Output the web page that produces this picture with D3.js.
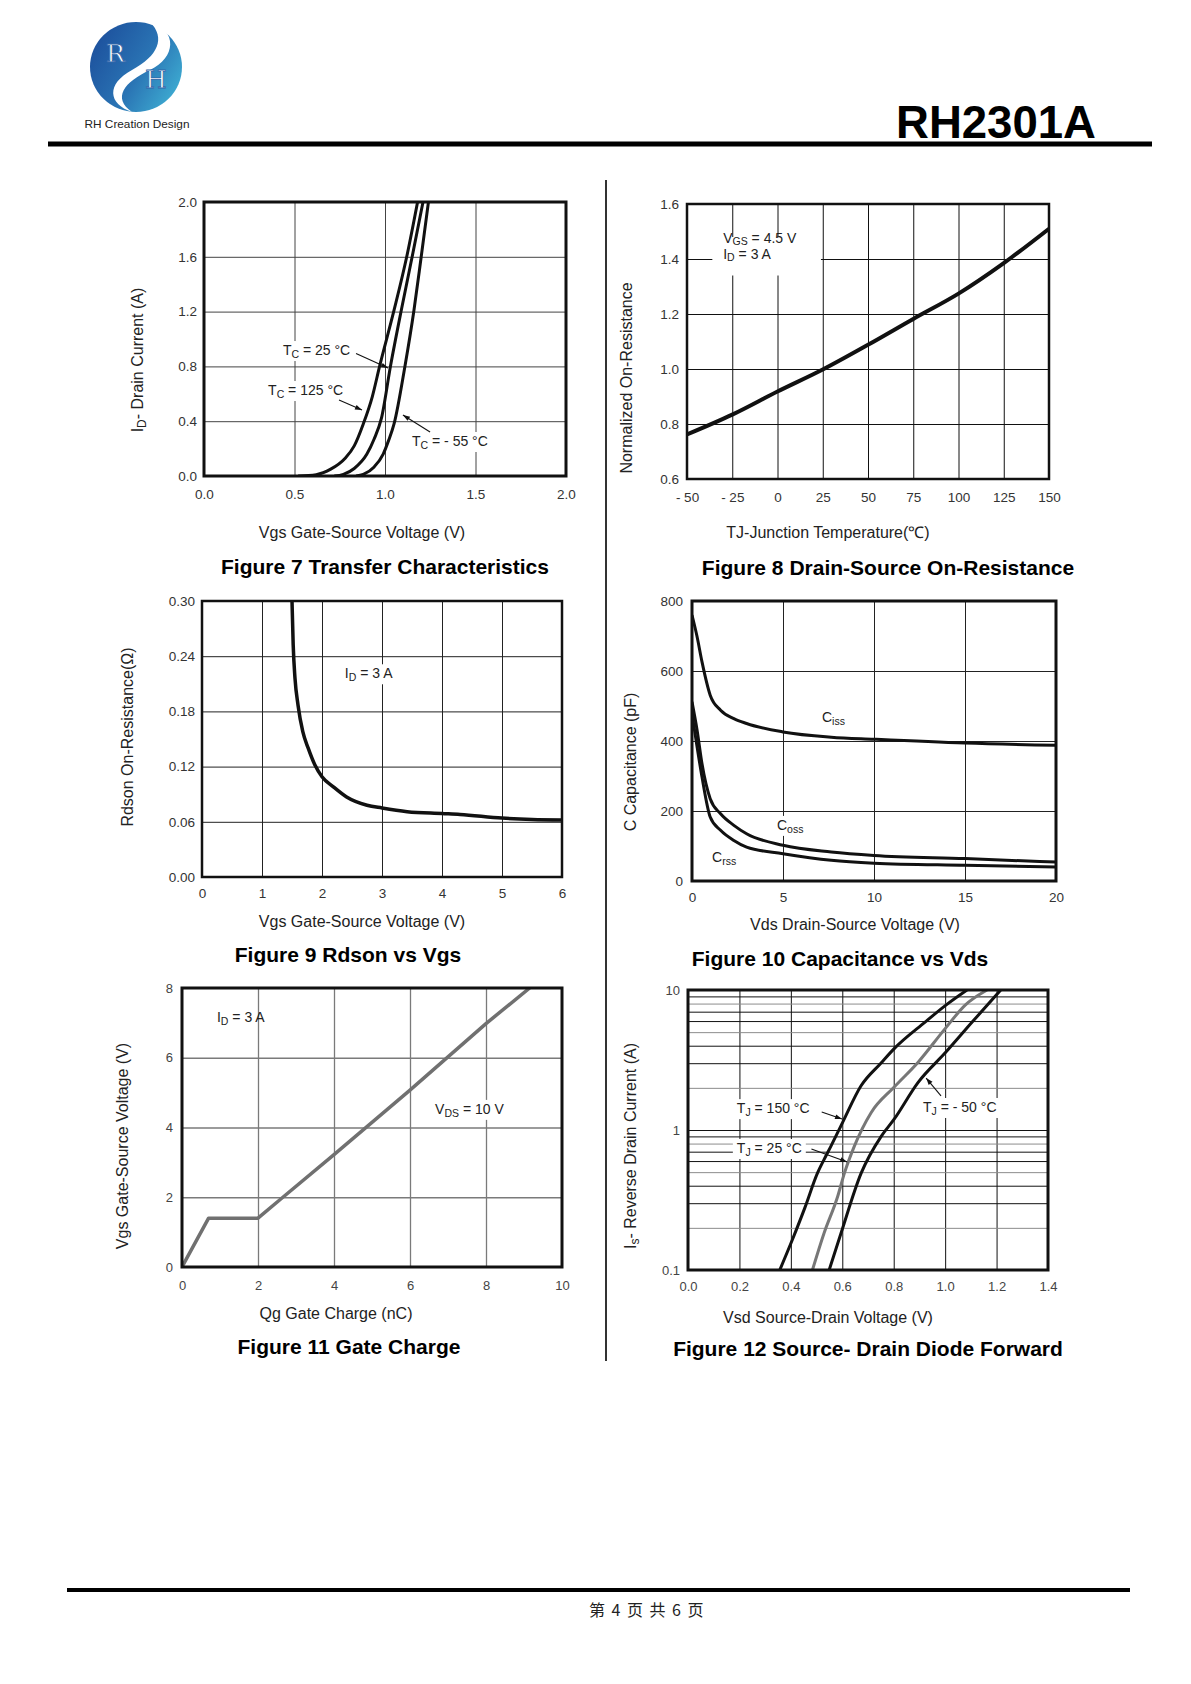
<!DOCTYPE html>
<html>
<head>
<meta charset="utf-8">
<script src="https://cdnjs.cloudflare.com/ajax/libs/d3/7.8.5/d3.min.js"></script>
<style>
  body { margin: 0; background: #fff; }
  svg text { font-family: "Liberation Sans", Arial, sans-serif; }
</style>
</head>
<body>
<svg id="page" width="1191" height="1684"></svg>
<script>
// ---------- data ----------

// Figure 7 : transfer characteristics, [Vgs (V), Id (A)]
var transferTicksX = [0, 0.5, 1.0, 1.5, 2.0];
var transferTicksY = [0, 0.4, 0.8, 1.2, 1.6, 2.0];
var transfer125C = [[0.52,0],[0.62,0.01],[0.70,0.05],[0.78,0.13],[0.83,0.22],[0.88,0.38],[0.93,0.58],[0.97,0.80],[1.05,1.21],[1.12,1.60],[1.18,2.0]];
var transfer25C  = [[0.72,0],[0.77,0.012],[0.83,0.055],[0.90,0.16],[0.94,0.27],[0.98,0.42],[1.03,0.80],[1.09,1.21],[1.15,1.60],[1.21,2.0]];
var transferM55C = [[0.84,0],[0.88,0.012],[0.94,0.066],[0.99,0.16],[1.02,0.26],[1.05,0.38],[1.11,0.80],[1.16,1.21],[1.20,1.60],[1.24,2.0]];

// Figure 8 : normalized on-resistance vs junction temperature
var tempTicks = [-50, -25, 0, 25, 50, 75, 100, 125, 150];
var normTicks = [0.6, 0.8, 1.0, 1.2, 1.4, 1.6];
var normRdson = [0.762, 0.834, 0.918, 0.998, 1.088, 1.182, 1.274, 1.385, 1.51];

// Figure 9 : Rdson vs Vgs, [Vgs (V), Rdson (ohm)]
var rdsTicksX = [0, 1, 2, 3, 4, 5, 6];
var rdsTicksY = [0, 0.06, 0.12, 0.18, 0.24, 0.30];
var rdsonVgs = [[1.50,0.30],[1.52,0.252],[1.55,0.216],[1.60,0.187],[1.68,0.158],[1.77,0.140],[1.88,0.122],[2.0,0.109],[2.19,0.098],[2.41,0.087],[2.75,0.078],[3.0,0.075],[3.42,0.071],[4.0,0.069],[4.3,0.068],[5.0,0.064],[5.5,0.0625],[6.0,0.062]];

// Figure 10 : capacitance vs Vds (pF)
var capTicksX = [0, 5, 10, 15, 20];
var capTicksY = [0, 200, 400, 600, 800];
var capVds  = [0, 0.28, 0.55, 1.0, 1.57, 2.3, 3.0, 5, 7.65, 10, 15, 20];
var capCiss = [760, 698, 626, 531, 488, 464, 450, 426, 411, 405, 394, 388];
var capCoss = [512, 431, 335, 235, 192, 159, 135, 102, 83, 73, 64, 54];
var capCrss = [478, 383, 297, 183, 145, 116, 97, 78, 59, 51, 45, 40];

// Figure 11 : gate charge, [Qg (nC), Vgs (V)]
var qgTicksX = [0, 2, 4, 6, 8, 10];
var qgTicksY = [0, 2, 4, 6, 8];
var gateCharge = [[0,0],[0.7,1.4],[2.0,1.4],[2.6,1.95],[4.0,3.22],[6.0,5.07],[8.0,6.98],[9.15,8.0]];

// Figure 12 : source-drain diode forward, [Vsd (V), Is (A)]
var vsdTicks = [0, 0.2, 0.4, 0.6, 0.8, 1.0, 1.2, 1.4];
var isTicks = [0.1, 1, 10];
var diode150C = [[0.357,0.1],[0.405,0.163],[0.455,0.28],[0.503,0.49],[0.529,0.615],[0.556,0.767],[0.601,1.13],[0.673,2.07],[0.75,3.0],[0.801,3.8],[0.922,5.9],[1.003,7.8],[1.085,10]];
var diode25C  = [[0.484,0.1],[0.529,0.183],[0.582,0.335],[0.608,0.49],[0.647,0.767],[0.712,1.33],[0.801,2.02],[0.895,3.05],[1.0,5.3],[1.078,7.8],[1.163,10]];
var diodeM50C = [[0.549,0.1],[0.595,0.183],[0.673,0.49],[0.752,0.905],[0.801,1.19],[0.895,2.19],[1.003,3.6],[1.105,5.9],[1.216,10]];

// ---------- drawing ----------
var svg = d3.select('#page');
var defs = svg.append('defs');
var clipCount = 0;
var TICK = 13.5, AXIS = 16, TITLE = 21, NOTE = 14;

defs.append('marker')
  .attr('id', 'arrow').attr('viewBox', '0 0 10 10')
  .attr('refX', 10).attr('refY', 5)
  .attr('markerWidth', 10).attr('markerHeight', 7)
  .attr('markerUnits', 'userSpaceOnUse').attr('orient', 'auto')
  .append('path').attr('d', 'M0,1.5L10,5L0,8.5z').attr('fill', '#111');

function text(g, x, y, str, size, opts) {
  opts = opts || {};
  var t = g.append('text').attr('x', x).attr('y', y)
    .attr('font-size', size).attr('fill', opts.fill || '#222')
    .attr('text-anchor', opts.anchor || 'start')
    .text(str);
  if (opts.bold) t.attr('font-weight', 'bold');
  if (opts.rotate) t.attr('transform', 'rotate(-90,' + x + ',' + y + ')');
  return t;
}

// text with subscripts: parts = ['T', {sub:'C'}, ' = 25 °C']
function rich(g, x, y, parts, size, opts) {
  opts = opts || {};
  var t = g.append('text').attr('x', x).attr('y', y)
    .attr('font-size', size).attr('fill', '#222')
    .attr('text-anchor', opts.anchor || 'start');
  if (opts.rotate) t.attr('transform', 'rotate(-90,' + x + ',' + y + ')');
  var drop = opts.drop || 3, down = 0;
  parts.forEach(function (p) {
    var s = t.append('tspan');
    if (typeof p === 'string') {
      s.attr('dy', -down).text(p); down = 0;
    } else {
      s.attr('dy', drop - down).attr('font-size', size * 0.75).text(p.sub); down = drop;
    }
  });
  if (opts.box) {
    var b = t.node().getBBox();
    g.insert('rect', function () { return t.node(); })
      .attr('x', b.x - 4).attr('y', b.y - 1).attr('width', b.width + 8).attr('height', b.height + 2)
      .attr('fill', '#fff');
  }
  return t;
}

function arrow(g, x1, y1, x2, y2) {
  g.append('line').attr('x1', x1).attr('y1', y1).attr('x2', x2).attr('y2', y2)
    .attr('stroke', '#111').attr('stroke-width', 1.1).attr('marker-end', 'url(#arrow)');
}

function drawChart(c) {
  var g = svg.append('g');
  var w = c.right - c.left, h = c.bottom - c.top;
  var x = d3.scaleLinear().domain(c.xDomain).range([c.left, c.right]);
  var y = (c.yLog ? d3.scaleLog() : d3.scaleLinear()).domain(c.yDomain).range([c.bottom, c.top]);

  // grid
  var gx = g.append('g').attr('transform', 'translate(0,' + c.bottom + ')')
    .call(d3.axisBottom(x).tickValues(c.xGrid).tickSize(-h).tickFormat(''));
  var gy = g.append('g').attr('transform', 'translate(' + c.left + ',0)')
    .call(d3.axisLeft(y).tickValues(c.yGrid).tickSize(-w).tickFormat(''));
  [gx, gy].forEach(function (s) {
    s.select('.domain').remove();
    s.selectAll('line').attr('stroke', c.gridColor).attr('stroke-width', c.gridWidth);
  });
  if (c.yGridColor) gy.selectAll('.tick line').attr('stroke', c.yGridColor);

  // white patch behind an in-plot legend block (drawn over the grid)
  if (c.patch) {
    g.append('rect').attr('x', x(c.patch[0])).attr('y', y(c.patch[3]))
      .attr('width', x(c.patch[1]) - x(c.patch[0])).attr('height', y(c.patch[2]) - y(c.patch[3]))
      .attr('fill', '#fff');
  }

  // tick labels
  var fs = c.tickSize || TICK;
  var lx = g.append('g').attr('transform', 'translate(0,' + c.bottom + ')')
    .call(d3.axisBottom(x).tickValues(c.xTicks).tickSize(0).tickPadding(c.xLabelGap - fs * 0.35).tickFormat(c.xFormat));
  var ly = g.append('g').attr('transform', 'translate(' + c.left + ',0)')
    .call(d3.axisLeft(y).tickValues(c.yTicks).tickSize(0).tickPadding(c.yLabelGap).tickFormat(c.yFormat));
  [lx, ly].forEach(function (s) {
    s.select('.domain').remove();
    s.attr('font-family', null);
    s.selectAll('text').attr('font-size', fs).attr('fill', c.tickColor || '#333');
  });

  // curves
  var id = 'clip' + (clipCount++);
  defs.append('clipPath').attr('id', id).append('rect')
    .attr('x', c.left).attr('y', c.top).attr('width', w).attr('height', h);
  var curves = g.append('g').attr('clip-path', 'url(#' + id + ')');
  c.series.forEach(function (s) {
    curves.append('path').datum(s.values)
      .attr('fill', 'none')
      .attr('stroke', s.color || '#111')
      .attr('stroke-width', s.width || 3)
      .attr('stroke-linejoin', 'round')
      .attr('d', d3.line()
        .x(function (d) { return x(d[0]); })
        .y(function (d) { return y(d[1]); })
        .curve(s.curve || d3.curveMonotoneX));
  });

  // frame
  g.append('rect').attr('x', c.left).attr('y', c.top).attr('width', w).attr('height', h)
    .attr('fill', 'none').attr('stroke', '#111').attr('stroke-width', c.frameWidth || 3);

  // titles
  if (c.yTitle) rich(g, c.yTitle.x, c.yTitle.y, c.yTitle.parts, AXIS, { anchor: 'middle', rotate: true });
  text(g, c.xTitle.x, c.xTitle.y, c.xTitle.text, AXIS, { anchor: 'middle' });
  text(g, c.title.x, c.title.y, c.title.text, TITLE, { anchor: 'middle', bold: true, fill: '#000' });

  return { g: g, x: x, y: y };
}

function pairs(xs, ys) { return xs.map(function (v, i) { return [v, ys[i]]; }); }
var f1 = d3.format('.1f');

// ---------- header ----------
var grad = defs.append('linearGradient').attr('id', 'logoGrad')
  .attr('x1', '0%').attr('y1', '20%').attr('x2', '100%').attr('y2', '80%');
grad.append('stop').attr('offset', '0%').attr('stop-color', '#1c4f9c');
grad.append('stop').attr('offset', '55%').attr('stop-color', '#2a74b4');
grad.append('stop').attr('offset', '100%').attr('stop-color', '#3fb0d4');

var logo = svg.append('g');
logo.append('ellipse').attr('cx', 136).attr('cy', 67).attr('rx', 46).attr('ry', 45).attr('fill', 'url(#logoGrad)');
logo.append('path')
  .attr('d', 'M150,22 C178,30 176,58 150,70 C124,82 112,98 132,112 C108,104 106,84 132,70 C158,56 166,38 150,22 Z')
  .attr('fill', '#fff');
logo.selectAll('text.letter').data([['R', 106, 62], ['H', 145, 88]]).enter()
  .append('text').attr('class', 'letter')
  .attr('x', function (d) { return d[1]; }).attr('y', function (d) { return d[2]; })
  .attr('font-size', 25)
  .style('font-family', '"DejaVu Serif", "Liberation Serif", serif')
  .attr('fill', '#fff').attr('stroke', '#2f66aa').attr('stroke-width', 0.8)
  .text(function (d) { return d[0]; });
text(svg, 137, 128, 'RH Creation Design', 11.8, { anchor: 'middle', fill: '#222' });

svg.append('text').attr('x', 1096).attr('y', 138).attr('text-anchor', 'end')
  .attr('font-size', 46).attr('font-weight', 'bold').attr('fill', '#000')
  .attr('textLength', 200).attr('lengthAdjust', 'spacingAndGlyphs')
  .text('RH2301A');
svg.append('line').attr('x1', 48).attr('x2', 1152).attr('y1', 144).attr('y2', 144)
  .attr('stroke', '#000').attr('stroke-width', 5);

// center separator
svg.append('line').attr('x1', 606).attr('x2', 606).attr('y1', 180).attr('y2', 1361)
  .attr('stroke', '#333').attr('stroke-width', 2);

// ---------- Figure 7 ----------
var c7 = drawChart({
  left: 204, right: 566, top: 202, bottom: 476,
  xDomain: [0, 2], yDomain: [0, 2],
  xGrid: [0.5, 1.0, 1.5], yGrid: [0.4, 0.8, 1.2, 1.6],
  xTicks: transferTicksX, yTicks: transferTicksY, xFormat: f1, yFormat: f1,
  xLabelGap: 18, yLabelGap: 7,
  gridColor: '#444', gridWidth: 1, frameWidth: 3,
  series: [
    { values: transfer125C, width: 3 },
    { values: transfer25C, width: 3 },
    { values: transferM55C, width: 3 }
  ],
  yTitle: { x: 143, y: 360, parts: ['I', { sub: 'D' }, '- Drain Current (A)'] },
  xTitle: { x: 362, y: 538, text: 'Vgs Gate-Source Voltage (V)' },
  title: { x: 385, y: 574, text: 'Figure 7 Transfer Characteristics' }
});
rich(c7.g, c7.x(0.436), c7.y(0.883), ['T', { sub: 'C' }, ' = 25 °C'], NOTE, { box: true });
arrow(c7.g, c7.x(0.84), c7.y(0.895), c7.x(1.017), c7.y(0.788));
rich(c7.g, c7.x(0.354), c7.y(0.591), ['T', { sub: 'C' }, ' = 125 °C'], NOTE, { box: true });
arrow(c7.g, c7.x(0.746), c7.y(0.555), c7.x(0.873), c7.y(0.482));
rich(c7.g, c7.x(1.149), c7.y(0.219), ['T', { sub: 'C' }, ' = - 55 °C'], NOTE, { box: true });
arrow(c7.g, c7.x(1.249), c7.y(0.321), c7.x(1.099), c7.y(0.445));

// ---------- Figure 8 ----------
var c8 = drawChart({
  left: 687, right: 1049, top: 204, bottom: 479,
  xDomain: [-50, 150], yDomain: [0.6, 1.6],
  xGrid: tempTicks.slice(1, -1), yGrid: [0.8, 1.0, 1.2, 1.4],
  xTicks: tempTicks, yTicks: normTicks,
  xFormat: function (d) { return d < 0 ? '- ' + Math.abs(d) : d; }, yFormat: f1,
  xLabelGap: 18, yLabelGap: 8,
  gridColor: '#111', gridWidth: 1, frameWidth: 2.5,
  patch: [-36, 24, 1.34, 1.48],
  series: [{ values: pairs(tempTicks, normRdson), width: 4, curve: d3.curveCatmullRom }],
  yTitle: { x: 632, y: 378, parts: ['Normalized On-Resistance'] },
  xTitle: { x: 828, y: 538, text: 'TJ-Junction Temperature(℃)' },
  title: { x: 888, y: 575, text: 'Figure 8 Drain-Source On-Resistance' }
});
rich(c8.g, c8.x(-30), c8.y(1.458), ['V', { sub: 'GS' }, ' = 4.5 V'], NOTE, { drop: 2 });
rich(c8.g, c8.x(-30), c8.y(1.400), ['I', { sub: 'D' }, ' = 3 A'], NOTE, { drop: 2 });

// ---------- Figure 9 ----------
var c9 = drawChart({
  left: 202, right: 562, top: 601, bottom: 877,
  xDomain: [0, 6], yDomain: [0, 0.30],
  xGrid: [1, 2, 3, 4, 5], yGrid: [0.06, 0.12, 0.18, 0.24],
  xTicks: rdsTicksX, yTicks: rdsTicksY, xFormat: d3.format('d'), yFormat: d3.format('.2f'),
  xLabelGap: 16, yLabelGap: 7,
  gridColor: '#222', gridWidth: 1, frameWidth: 2.5,
  series: [{ values: rdsonVgs, width: 3.5 }],
  yTitle: { x: 133, y: 737, parts: ['Rdson On-Resistance(Ω)'] },
  xTitle: { x: 362, y: 927, text: 'Vgs Gate-Source Voltage (V)' },
  title: { x: 348, y: 962, text: 'Figure 9 Rdson vs Vgs' }
});
rich(c9.g, c9.x(2.38), c9.y(0.216), ['I', { sub: 'D' }, ' = 3 A'], NOTE, { box: true });

// ---------- Figure 10 ----------
var c10 = drawChart({
  left: 692, right: 1056, top: 601, bottom: 881,
  xDomain: [0, 20], yDomain: [0, 800],
  xGrid: [5, 10, 15], yGrid: [200, 400, 600],
  xTicks: capTicksX, yTicks: capTicksY, xFormat: d3.format('d'), yFormat: d3.format('d'),
  xLabelGap: 16, yLabelGap: 9,
  gridColor: '#222', gridWidth: 1, frameWidth: 3,
  series: [
    { values: pairs(capVds, capCiss), width: 3 },
    { values: pairs(capVds, capCoss), width: 3 },
    { values: pairs(capVds, capCrss), width: 3 }
  ],
  yTitle: { x: 636, y: 762, parts: ['C Capacitance (pF)'] },
  xTitle: { x: 855, y: 930, text: 'Vds Drain-Source Voltage (V)' },
  title: { x: 840, y: 966, text: 'Figure 10 Capacitance vs Vds' }
});
rich(c10.g, c10.x(7.14), c10.y(454), ['C', { sub: 'iss' }], NOTE);
rich(c10.g, c10.x(4.67), c10.y(146), ['C', { sub: 'oss' }], NOTE, { box: true });
rich(c10.g, c10.x(1.1), c10.y(54), ['C', { sub: 'rss' }], NOTE);

// ---------- Figure 11 ----------
var c11 = drawChart({
  left: 182, right: 562, top: 988, bottom: 1267,
  xDomain: [0, 10], yDomain: [0, 8],
  xGrid: [2, 4, 6, 8], yGrid: [2, 4, 6],
  xTicks: qgTicksX, yTicks: qgTicksY, xFormat: d3.format('d'), yFormat: d3.format('d'),
  xLabelGap: 18, yLabelGap: 9, tickSize: 13, tickColor: '#444',
  gridColor: '#7a7a7a', gridWidth: 1.3, frameWidth: 3,
  series: [{ values: gateCharge, width: 3.5, color: '#707070', curve: d3.curveLinear }],
  yTitle: { x: 128, y: 1146, parts: ['Vgs Gate-Source Voltage (V)'] },
  xTitle: { x: 336, y: 1319, text: 'Qg Gate Charge (nC)' },
  title: { x: 349, y: 1354, text: 'Figure 11 Gate Charge' }
});
rich(c11.g, c11.x(0.92), c11.y(7.02), ['I', { sub: 'D' }, ' = 3  A'], NOTE);
rich(c11.g, c11.x(6.66), c11.y(4.39), ['V', { sub: 'DS' }, '  =  10 V'], NOTE, { box: true });

// ---------- Figure 12 ----------
var logGrid = [];
[0.1, 1].forEach(function (dec) {
  for (var k = 2; k <= 9; k++) logGrid.push(k * dec);
});
logGrid.push(1);
var c12 = drawChart({
  left: 688, right: 1048, top: 990, bottom: 1270,
  xDomain: [0, 1.4], yDomain: [0.1, 10], yLog: true,
  xGrid: [0.2, 0.4, 0.6, 0.8, 1.0, 1.2], yGrid: logGrid,
  xTicks: vsdTicks, yTicks: isTicks, xFormat: f1,
  yFormat: function (d) { return d < 1 ? '0.1' : String(d); },
  xLabelGap: 16, yLabelGap: 8, tickSize: 13, tickColor: '#444',
  gridColor: '#111', gridWidth: 1, frameWidth: 3,
  yGridColor: function (d) {
    var m = Math.round(d / Math.pow(10, Math.floor(Math.log10(d) + 1e-9)));
    return (m === 2 || m === 5 || m === 8) ? '#8c8c8c' : '#111';
  },
  series: [
    { values: diode150C, width: 3 },
    { values: diode25C, width: 3, color: '#777' },
    { values: diodeM50C, width: 3 }
  ],
  yTitle: { x: 636, y: 1146, parts: ['I', { sub: 's' }, '- Reverse Drain Current (A)'] },
  xTitle: { x: 828, y: 1323, text: 'Vsd Source-Drain Voltage (V)' },
  title: { x: 868, y: 1356, text: 'Figure 12 Source- Drain Diode Forward' }
});
rich(c12.g, c12.x(0.19), c12.y(1.32), ['T', { sub: 'J' }, ' = 150 °C'], NOTE, { box: true });
arrow(c12.g, c12.x(0.52), c12.y(1.345), c12.x(0.599), c12.y(1.198));
rich(c12.g, c12.x(0.19), c12.y(0.685), ['T', { sub: 'J' }, ' = 25 °C'], NOTE, { box: true });
arrow(c12.g, c12.x(0.48), c12.y(0.732), c12.x(0.619), c12.y(0.591));
rich(c12.g, c12.x(0.914), c12.y(1.345), ['T', { sub: 'J' }, ' = - 50 °C'], NOTE, { box: true });
arrow(c12.g, c12.x(0.984), c12.y(1.75), c12.x(0.926), c12.y(2.35));

// ---------- footer ----------
svg.append('line').attr('x1', 67).attr('x2', 1130).attr('y1', 1590).attr('y2', 1590)
  .attr('stroke', '#000').attr('stroke-width', 4);
svg.append('text').attr('x', 647).attr('y', 1616).attr('text-anchor', 'middle')
  .attr('font-size', 16).attr('letter-spacing', 1.5)
  .style('font-family', '"Noto Sans CJK SC", sans-serif').attr('fill', '#222')
  .text('第 4 页 共 6 页');
</script>
</body>
</html>
